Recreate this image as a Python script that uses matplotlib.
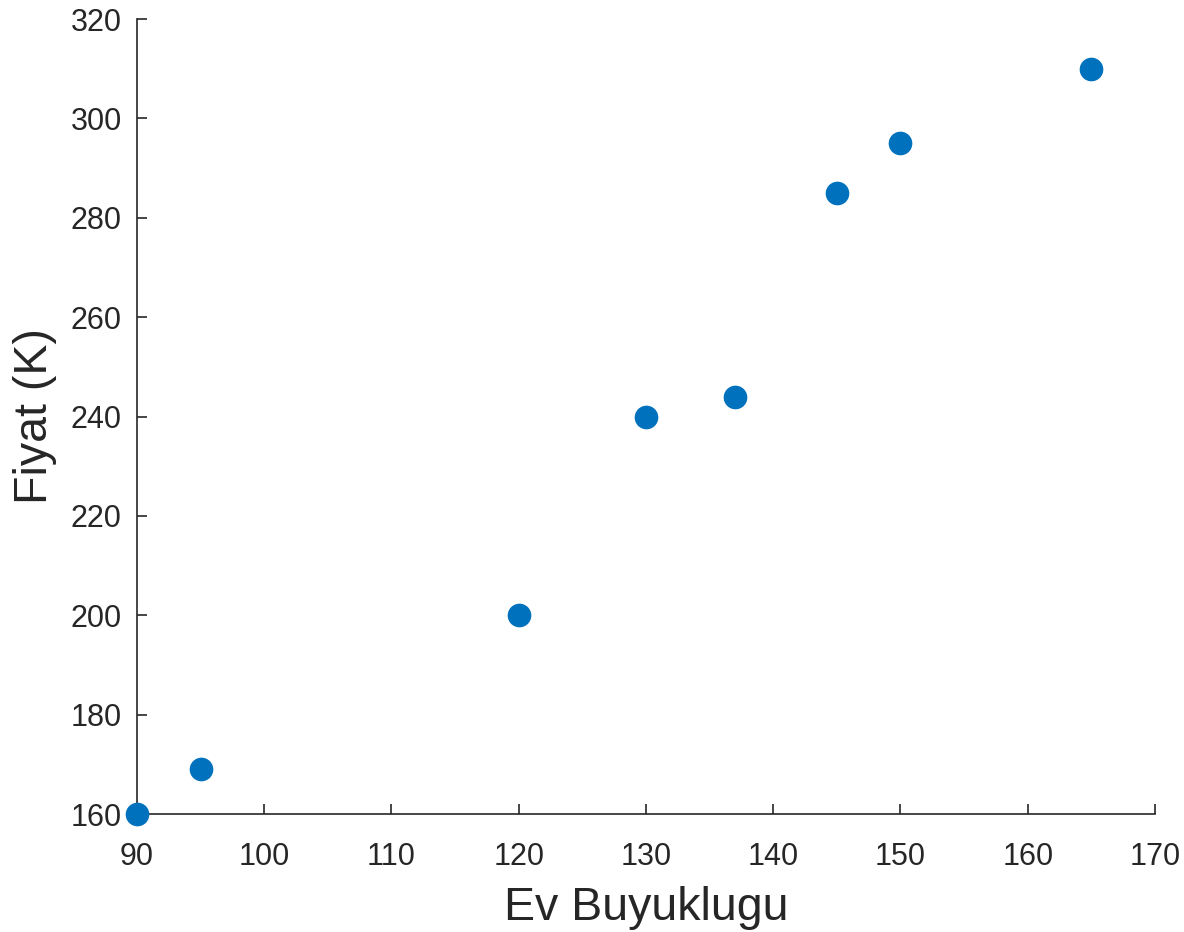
import matplotlib
matplotlib.use("Agg")
from matplotlib import pyplot as plt

# house size vs price
ev_buyuklugu = [90, 95, 120, 130, 137, 145, 150, 165]
fiyat = [160, 169, 200, 240, 244, 285, 295, 310]

x_ticks = [90, 100, 110, 120, 130, 140, 150, 160, 170]
y_ticks = [160, 180, 200, 220, 240, 260, 280, 300, 320]

plt.rcParams['font.family'] = ['Liberation Sans', 'DejaVu Sans']
dark = "#262626"

fig = plt.figure(figsize=(11.84, 9.32), dpi=100)
ax = fig.add_axes([0.1157, 0.1266, 0.9755 - 0.1157, 0.9796 - 0.1266])

ax.scatter(ev_buyuklugu, fiyat, s=290, color="#0072BD", linewidths=0, zorder=3, clip_on=False)

ax.set_xlim(90, 170)
ax.set_ylim(160, 320)
ax.set_xticks(x_ticks)
ax.set_yticks(y_ticks)

for side in ("top", "right"):
    ax.spines[side].set_visible(False)
for side in ("left", "bottom"):
    ax.spines[side].set_color(dark)
    ax.spines[side].set_linewidth(1.2)

ax.tick_params(direction="in", length=7, width=1.2, color=dark, labelcolor=dark,
               labelsize=22)
ax.tick_params(axis="x", pad=20)
ax.tick_params(axis="y", pad=11)
ax.set_xlabel("Ev Buyuklugu", fontsize=33.5, color=dark, labelpad=10)
ax.set_ylabel("Fiyat (K)", fontsize=33.5, color=dark, labelpad=10)

fig.savefig("out.png", dpi=100)
